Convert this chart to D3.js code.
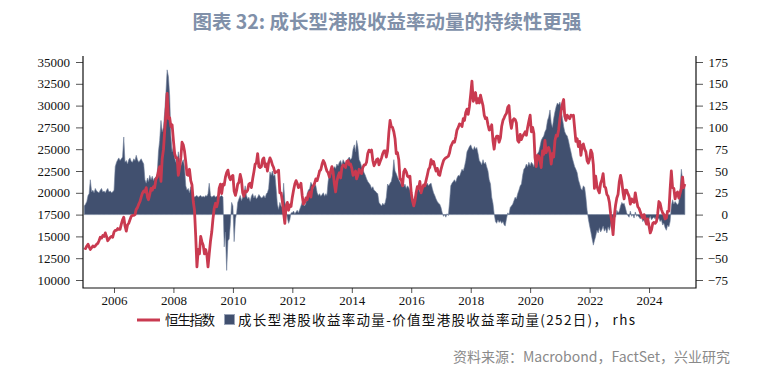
<!DOCTYPE html>
<html lang="zh">
<head>
    <meta charset="UTF-8">
    <title>图表 32</title>
    <script src="https://d3js.org/d3.v7.min.js"></script>
    <style>
        * { margin: 0; padding: 0; box-sizing: border-box; }
        body { background: #fff; width: 769px; height: 377px; overflow: hidden; }
        .tick text { font-family: "Liberation Serif", "DejaVu Serif", serif; font-size: 13px; fill: #111; }
        .tick line { stroke: #555; }
    </style>
</head>
<body>
    <div id="chart"></div>
    <script>
        // semi-monthly points (1st and 16th of each month) from Jan 2005
        const hsi = [
            13700,13600,13900,14100,13800,13500,13700,13900,13800,13900,14100,14200,14500,14900,14800,15100,15000,15400,15000,14500,14700,14900,15000,14900,
            15500,15700,15700,15900,15800,15800,16400,16900,17200,16200,15600,16300,16500,16900,17300,17400,17400,17500,18100,18300,18700,19000,19500,19960,
            20200,20100,20600,19500,19200,19800,20500,20300,20700,20600,21600,21800,22500,23000,21300,23900,25000,27100,29000,31400,28500,28600,27600,27800,
            26000,24500,24000,24000,22000,22800,24000,25800,25500,24800,23500,22100,22000,22700,21400,20900,19000,18000,15000,11500,13500,13000,15000,14400,
            14000,13000,13500,12800,11500,13000,14500,15500,17000,18200,18800,18400,19000,20500,21000,19900,21000,20900,21800,22300,22600,21800,21500,21870,
            22000,20200,19700,20300,21000,21200,22100,21500,20000,19600,20200,20100,20300,21000,21100,20600,21600,22400,23300,23400,24500,23000,22900,23000,
            23800,24000,23000,23300,22500,23500,24000,23700,23200,22900,22300,22400,22400,22600,20000,20000,19000,17700,16500,18500,18900,18000,18600,18430,
            19500,20300,21000,21400,21100,20600,20700,21100,19700,18700,18900,19400,19200,19800,20100,19500,20600,20800,21100,21600,21400,21900,22500,22650,
            23300,23700,23400,22900,22500,22300,21800,22500,23000,22400,21000,20100,21300,21900,22300,21700,22900,23200,23100,22900,23600,23700,23200,23300,
            22800,22000,22200,22500,21600,22000,22700,22400,22200,22900,23200,23200,23500,24500,24900,24700,24900,23700,23100,23400,23800,23900,23200,23600,
            24000,24500,24800,24800,24100,24800,26900,28300,27600,27500,27000,26200,24500,24600,23800,21600,21500,20800,22400,22700,22400,21900,21800,21900,
            20000,19100,18500,19100,20000,20700,20500,21300,20000,20500,20900,20800,21400,22000,22700,22900,23800,23300,23600,23000,22500,22800,22100,22000,
            22700,23200,23700,23900,24000,24100,24200,24600,25300,25600,25900,25800,26400,27200,27500,27900,27800,27600,28500,28300,29200,29600,29000,29900,
            31300,32800,30500,30900,31500,30300,30800,30300,31200,30600,30000,28900,28500,28600,27800,27200,27300,27800,26000,25000,26200,26500,26500,25800,
            26300,27600,28300,28600,28900,29100,29800,30000,28200,27400,28300,28500,28400,28000,26000,25800,26700,26100,26500,26700,27000,26600,27500,28200,
            28900,27000,27500,26800,24000,23000,24300,24200,23700,22900,24800,24400,26000,24600,25100,25200,24600,23300,24500,24100,26000,26600,26500,27200,
            28500,29400,30200,30700,28800,28300,28900,28700,28500,28900,28800,28900,27400,25900,26200,25300,25900,24300,25400,25600,25000,24700,23700,23400,
            23900,24900,24500,23200,20500,21900,20800,20300,20000,21100,21500,22200,20700,20600,19800,19600,18900,17600,16600,15200,17400,18600,19400,19800,
            21300,22000,21200,20000,19300,20300,20300,19900,19600,18700,19300,19000,18900,20000,19100,18400,18200,17800,17400,17100,17500,17000,16400,17000,
            16200,15400,15800,16500,16600,16500,16700,17600,19000,18800,18100,17700,17500,17000,17100,17900,17900,20400,22500,20600,20500,19300,19900,20100,
            19400,19900,20500,21800,20600,21000
        ];

        // growth minus value return momentum (252d), right axis
        const momentum = [
            10,12,15,22,24,40,26,28,25,30,27,26,25,28,30,26,27,25,28,30,26,27,25,26,
            28,55,60,63,65,62,64,66,89,60,62,58,63,65,61,60,64,62,68,63,60,62,64,61,
            58,40,36,42,38,45,40,44,39,42,43,47,72,85,108,95,100,118,140,166,158,136,90,72,
            78,65,60,58,72,62,56,60,63,55,33,28,30,25,32,27,22,20,21,22,20,21,22,20,
            21,20,22,21,24,36,22,20,21,22,20,21,22,20,21,22,20,-37,-20,-64,-30,-28,-10,14,
            10,-31,-5,2,14,18,22,16,20,24,33,22,18,20,15,21,24,19,22,18,20,23,21,19,
            20,22,19,24,25,30,49,45,50,44,46,30,12,6,14,10,8,36,15,5,-4,-10,-6,2,
            2,4,1,3,5,2,6,10,14,12,10,13,24,28,30,37,34,30,36,33,25,22,24,21,
            23,25,21,24,22,38,47,45,50,52,55,53,58,56,60,62,57,63,60,59,61,64,66,63,
            65,75,80,72,85,78,63,60,55,52,48,45,41,38,36,34,30,32,28,27,25,24,14,12,
            10,13,11,14,20,35,33,36,38,45,63,50,47,43,40,37,34,36,32,35,30,33,31,28,
            21,18,17,20,24,28,30,26,29,33,35,32,34,36,33,35,36,30,25,22,18,15,13,12,
            8,2,-2,0,-3,1,-1,15,33,36,38,40,37,42,45,44,48,52,50,55,62,72,75,78,
            80,76,74,78,75,77,70,62,60,57,63,58,60,55,50,40,35,20,13,1,-8,-10,-6,-9,
            -7,-10,-8,-12,-13,-5,2,0,8,10,12,16,20,18,24,28,33,35,45,52,54,58,55,60,
            56,60,58,55,63,66,70,72,78,85,88,90,95,98,108,112,120,105,100,110,118,124,128,126,
            129,122,110,101,95,92,90,85,78,72,65,60,55,52,48,40,35,30,28,33,31,20,5,-5,
            -13,-20,-28,-35,-30,-25,-18,-21,-15,-20,-17,-13,-19,-16,-21,-14,-18,-12,-5,-8,0,-3,5,2,
            4,10,14,12,13,8,2,-1,-3,4,-2,0,-4,3,-2,-1,-3,-5,-2,-8,-6,-10,-4,-7,
            -5,-2,-6,-4,-3,-5,-2,-6,-4,-8,-6,-12,-10,-15,-18,-12,-14,-8,10,17,12,15,13,11,
            14,30,52,40,33,35
        ];

        const yearTicks = [2006, 2008, 2010, 2012, 2014, 2016, 2018, 2020, 2022, 2024];
        const leftTicks = [10000, 12500, 15000, 17500, 20000, 22500, 25000, 27500, 30000, 32500, 35000];
        const rightTicks = [-75, -50, -25, 0, 25, 50, 75, 100, 125, 150, 175];

        const W = 769, H = 377;
        const plot = { left: 83, right: 696, top: 56, bottom: 288 };
        const red = "#c93a50", navy = "#41506f";

        const dates = hsi.map((_, i) => new Date(2005, Math.floor(i / 2), i % 2 ? 16 : 1));
        const data = dates.map((d, i) => ({ date: d, hsi: hsi[i], mom: momentum[i] }));

        const svg = d3.select("#chart").append("svg")
            .attr("width", W).attr("height", H)
            .style("background", "#fff");

        const x = d3.scaleTime()
            .domain([new Date(2004, 11, 16), new Date(2025, 6, 31)])
            .range([plot.left, plot.right]);
        const yL = d3.scaleLinear().domain([10000, 35000]).range([280, 62]);
        const yR = d3.scaleLinear().domain([-75, 175]).range([280, 62]);

        // title
        svg.append("text")
            .attr("x", 387).attr("y", 29)
            .attr("text-anchor", "middle")
            .style("font-family", "'Noto Sans CJK SC', sans-serif")
            .style("font-size", "19.5px")
            .style("font-weight", "bold")
            .style("fill", "#8090a9")
            .text("图表 32: 成长型港股收益率动量的持续性更强");

        // momentum area (rhs)
        const area = d3.area()
            .x(d => x(d.date))
            .y0(yR(0))
            .y1(d => yR(d.mom));
        svg.append("path")
            .datum(data)
            .attr("d", area)
            .attr("fill", navy)
            .attr("stroke", "#6f7d99")
            .attr("stroke-width", 0.6);

        // HSI line
        const line = d3.line()
            .x(d => x(d.date))
            .y(d => yL(d.hsi));
        svg.append("path")
            .datum(data)
            .attr("d", line)
            .attr("fill", "none")
            .attr("stroke", red)
            .attr("stroke-width", 2.8)
            .attr("stroke-linejoin", "round");

        // axes
        svg.append("g")
            .attr("transform", `translate(${plot.left},0)`)
            .call(d3.axisLeft(yL).tickValues(leftTicks).tickSize(7).tickPadding(6).tickFormat(d3.format("d")))
            .call(g => g.select(".domain").remove());

        svg.append("g")
            .attr("transform", `translate(${plot.right},0)`)
            .call(d3.axisRight(yR).tickValues(rightTicks).tickSize(7).tickPadding(6).tickFormat(d3.format("d")))
            .call(g => g.select(".domain").remove())
            .call(g => g.selectAll("text").attr("text-anchor", "end").attr("x", 32));

        svg.append("g")
            .attr("transform", `translate(0,${plot.bottom})`)
            .call(d3.axisBottom(x).tickValues(yearTicks.map(y => new Date(y, 0, 1))).tickSize(5).tickPadding(3).tickFormat(d3.timeFormat("%Y")))
            .call(g => g.select(".domain").remove());

        // frame lines
        svg.append("path")
            .attr("d", `M${plot.left},${plot.top}V${plot.bottom}H${plot.right}V${plot.top}`)
            .attr("fill", "none")
            .attr("stroke", "#111")
            .attr("stroke-width", 1.2);

        // legend
        const lg = svg.append("g")
            .style("font-family", "'Noto Sans CJK SC', sans-serif")
            .style("font-size", "13.5px")
            .style("fill", "#111");
        lg.append("line")
            .attr("x1", 137).attr("x2", 160).attr("y1", 320).attr("y2", 320)
            .attr("stroke", red).attr("stroke-width", 3);
        lg.append("text").attr("x", 165).attr("y", 325)
            .attr("textLength", 50).attr("lengthAdjust", "spacing")
            .text("恒生指数");
        lg.append("rect")
            .attr("x", 224.5).attr("y", 314.5).attr("width", 10).attr("height", 10)
            .attr("fill", navy).attr("stroke", "#9aa4b8").attr("stroke-width", 1);
        lg.append("text").attr("x", 238).attr("y", 325)
            .attr("textLength", 397).attr("lengthAdjust", "spacing")
            .text("成长型港股收益率动量-价值型港股收益率动量(252日)， rhs");

        // source
        svg.append("text")
            .attr("x", 730).attr("y", 362)
            .attr("text-anchor", "end")
            .style("font-family", "'Noto Sans CJK SC', sans-serif")
            .style("font-size", "14px")
            .style("fill", "#8a8a8a")
            .text("资料来源：Macrobond，FactSet，兴业研究");
    </script>
</body>
</html>
